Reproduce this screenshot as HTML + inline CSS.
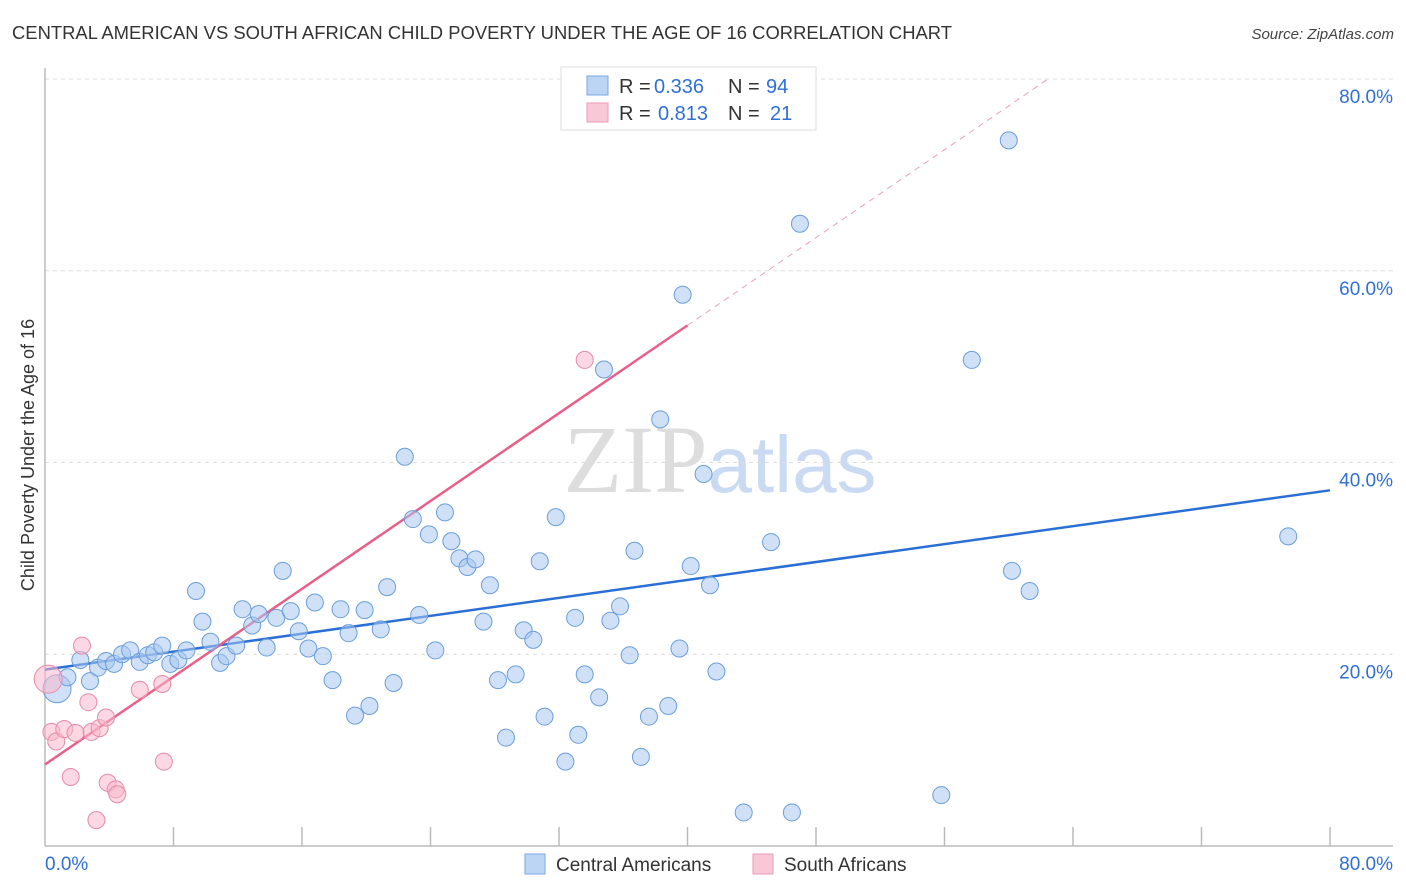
<!DOCTYPE html>
<html><head><meta charset="utf-8"><style>
body{margin:0;background:#fff;font-family:"Liberation Sans",sans-serif;}
svg{display:block}
</style></head><body>
<svg id="chart" width="1406" height="892" xmlns="http://www.w3.org/2000/svg" font-family="Liberation Sans, sans-serif">
<text x="12" y="39" font-size="18" fill="#333" textLength="940" lengthAdjust="spacingAndGlyphs">CENTRAL AMERICAN VS SOUTH AFRICAN CHILD POVERTY UNDER THE AGE OF 16 CORRELATION CHART</text>
<text x="1394" y="39" font-size="15" fill="#444" text-anchor="end" font-style="italic">Source: ZipAtlas.com</text>
<text transform="translate(34,455) rotate(-90)" font-size="18" fill="#333" text-anchor="middle">Child Poverty Under the Age of 16</text>
<text x="720" y="492" font-size="96" text-anchor="middle" fill="#ddd" font-family="Liberation Serif, serif">ZIP<tspan fill="#c9daf2" font-family="Liberation Sans, sans-serif" font-size="80">atlas</tspan></text>
<g id="grid"></g>
<g id="axes"></g>
<g id="lines"></g>
<g id="points"></g>
<g>
<rect x="561" y="67" width="255" height="63" fill="#fff" stroke="#ddd"/>
<rect x="587" y="76" width="21" height="19" fill="#bcd5f5" stroke="#7aa6e0"/>
<rect x="587" y="103" width="21" height="19" fill="#f9c8d7" stroke="#ec9ab4"/>
<text x="619" y="93" font-size="20" fill="#333">R =</text>
<text x="654" y="93" font-size="20" fill="#2f6fd6">0.336</text>
<text x="728" y="93" font-size="20" fill="#333">N =</text>
<text x="766" y="93" font-size="20" fill="#2f6fd6">94</text>
<text x="619" y="120" font-size="20" fill="#333">R =</text>
<text x="658" y="120" font-size="20" fill="#2f6fd6">0.813</text>
<text x="728" y="120" font-size="20" fill="#333">N =</text>
<text x="770" y="120" font-size="20" fill="#2f6fd6">21</text>
</g>
<g>
<rect x="525" y="854" width="20" height="20" fill="#bcd5f5" stroke="#7aa6e0"/>
<text x="556" y="871" font-size="19" fill="#333">Central Americans</text>
<rect x="753" y="854" width="20" height="20" fill="#f9c8d7" stroke="#ec9ab4"/>
<text x="784" y="871" font-size="19" fill="#333">South Africans</text>
</g>
</svg>
<script>
const blueX=[0.75,1.4,2.8,2.2,3.3,3.8,4.3,4.8,5.3,5.9,6.4,6.8,7.3,7.8,8.3,8.8,9.4,9.8,10.3,10.9,11.3,11.9,12.3,12.9,13.3,13.8,14.4,14.8,15.3,15.8,16.4,16.8,17.3,17.9,18.4,18.9,19.3,19.9,20.2,20.9,21.3,21.7,22.4,22.9,23.3,23.9,24.3,24.9,25.3,25.8,26.3,26.8,27.3,27.7,28.2,28.7,29.3,29.8,30.4,30.8,31.1,31.8,32.4,33.0,33.2,33.6,34.5,34.8,35.2,35.8,36.4,36.7,37.1,37.6,38.3,38.8,39.5,39.7,40.2,41.0,41.4,41.8,43.5,45.2,46.5,47.0,55.8,57.7,60.0,60.2,61.3,77.4];
const blueY=[16.4,17.6,17.2,19.4,18.6,19.3,19.0,20.0,20.4,19.2,19.9,20.2,20.9,19.0,19.4,20.4,26.6,23.4,21.3,19.1,19.8,20.9,24.7,23.0,24.2,20.7,23.8,28.7,24.5,22.4,20.6,25.4,19.8,17.3,24.7,22.2,13.6,24.6,14.6,22.6,27.0,17.0,40.6,34.1,24.1,32.5,20.4,34.8,31.8,30.0,29.1,29.9,23.4,27.2,17.3,11.3,17.9,22.5,21.5,29.7,13.5,34.3,8.8,23.8,11.6,17.9,15.5,49.7,23.5,25.0,19.9,30.8,9.3,13.5,44.5,14.6,20.6,57.5,29.2,38.8,27.2,18.2,3.5,31.7,3.5,64.9,5.3,50.7,73.6,28.7,26.6,32.3];
const pinkX=[0.2,0.4,0.7,1.2,1.6,1.9,2.3,2.7,2.9,3.2,3.4,3.8,3.9,4.4,4.5,5.9,7.3,7.4,33.6];
const pinkY=[17.4,11.9,10.9,12.2,7.2,11.8,20.9,15.0,11.9,2.7,12.3,13.4,6.6,5.9,5.4,16.3,16.9,8.8,50.7];
const blueTrend=[18.4,37.1];
const pinkTrend=[8.5,54.3];
const yTicks=[20,40,60,80];
const xTickLabels=["0.0%","80.0%"];
const X0=45,X1=1330,Y0=846,Y1=79;
const sx=v=>X0+(X1-X0)*v/80, sy=v=>Y0-(Y0-Y1)*v/80;
const NS="http://www.w3.org/2000/svg";
function mk(p,tag,at){const e=document.createElementNS(NS,tag);for(const k in at)e.setAttribute(k,at[k]);p.appendChild(e);return e;}
const grid=document.getElementById('grid'),axes=document.getElementById('axes'),lines=document.getElementById('lines'),pts=document.getElementById('points');
yTicks.forEach(t=>{
 const l=mk(grid,'line',{x1:X0,x2:1393,y1:sy(t),y2:sy(t),stroke:'#ddd','stroke-dasharray':'4,4'});
 
 
 const tx=mk(axes,'text',{x:1393,y:sy(t)+24,'font-size':19,fill:'#2f6fd6','text-anchor':'end'});tx.textContent=t+'.0%';
 
 
});
const ya=mk(axes,'line',{x1:X0,x2:X0,y1:68,y2:Y0,stroke:'#bbb','stroke-width':1.5});


const xa=mk(axes,'line',{x1:X0,x2:1393,y1:Y0,y2:Y0,stroke:'#bbb','stroke-width':1.5});


for(let i=1;i<=10;i++){const v=i*8;const t=mk(axes,'line',{x1:sx(v),x2:sx(v),y1:Y0-19,y2:Y0,stroke:'#bbb','stroke-width':1.5});
 
 }
const xl0=mk(axes,'text',{x:45,y:870,'font-size':19,fill:'#2f6fd6'});xl0.textContent=xTickLabels[0];


const xl1=mk(axes,'text',{x:1393,y:870,'font-size':19,fill:'#2f6fd6','text-anchor':'end'});xl1.textContent=xTickLabels[1];


function dot(x,y,r,f,s,name){const c=mk(pts,'circle',{cx:sx(x),cy:sy(y),r:r,fill:f,'fill-opacity':0.55,stroke:s,'stroke-width':1});
 
 }
blueX.forEach((x,i)=>dot(x,blueY[i],i==0?14:8.5,'#a9c8f0','#6a9edb','central-american-point'));
pinkX.forEach((x,i)=>dot(x,pinkY[i],i==0?14:8.5,'#f7b8cc','#e88aa8','south-african-point'));
const bl=mk(lines,'line',{x1:sx(0),y1:sy(blueTrend[0]),x2:sx(80),y2:sy(blueTrend[1]),stroke:'#2a6fd6','stroke-width':2.5});


const slope=(pinkTrend[1]-pinkTrend[0])/40;
const pl=mk(lines,'line',{x1:sx(0),y1:sy(pinkTrend[0]),x2:sx(40),y2:sy(pinkTrend[1]),stroke:'#e8608a','stroke-width':2.5});


const xe=(80-pinkTrend[0])/slope;
const pd=mk(lines,'line',{x1:sx(40),y1:sy(pinkTrend[1]),x2:sx(xe),y2:sy(80),stroke:'#eaa0b8','stroke-width':1,'stroke-dasharray':'6,5'});


</script>
</body></html>
